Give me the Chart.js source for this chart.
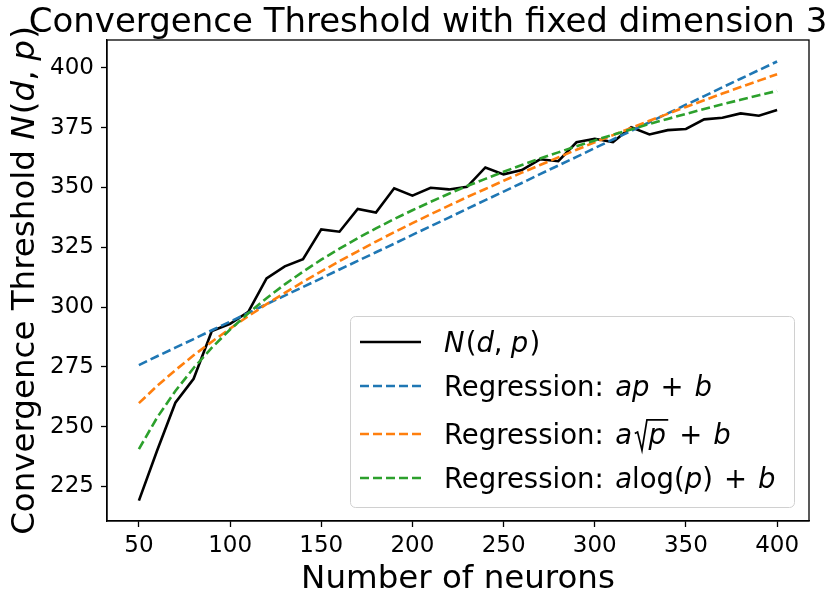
<!DOCTYPE html>
<html>
<head>
<meta charset="utf-8">
<script src="https://cdn.jsdelivr.net/npm/chart.js@4.4.0/dist/chart.umd.min.js"></script>
<style>
  html, body { margin: 0; padding: 0; background: #fff; }
  #wrap { width: 832px; height: 594px; }
</style>
</head>
<body>
<div id="wrap"><canvas id="chart" width="832" height="594"></canvas></div>
<script>
// number of neurons p
const neurons = [50, 60, 70, 80, 90, 100, 110, 120, 130, 140, 150, 160, 170, 180, 190, 200, 210, 220,
                 230, 240, 250, 260, 270, 280, 290, 300, 310, 320, 330, 340, 350, 360, 370, 380, 390, 400];
// measured convergence threshold N(d,p)
const threshold = [219, 240, 260, 270, 290, 293, 298, 312, 317, 320, 332.5, 331.5, 341, 339.5, 349.7, 346.6,
                   349.9, 349.2, 350.3, 358.4, 355.5, 357.3, 361.8, 361, 368.9, 370.4, 369, 375.2, 372.2,
                   374, 374.5, 378.5, 379.2, 381, 380, 382.4];
// regression curves
const regLinear = [275.7, 279.4, 283.0, 286.6, 290.3, 293.9, 297.5, 301.2, 304.8, 308.4, 312.0, 315.7,
                   319.3, 322.9, 326.5, 330.2, 333.8, 337.4, 341.1, 344.7, 348.3, 351.9, 355.6, 359.2,
                   362.8, 366.5, 370.1, 373.7, 377.3, 381.0, 384.6, 388.2, 391.9, 395.5, 399.1, 402.7];
const regSqrt = [259.8, 267.0, 273.6, 279.8, 285.5, 291.0, 296.2, 301.2, 305.9, 310.5, 314.9, 319.2,
                 323.3, 327.4, 331.3, 335.1, 338.8, 342.4, 346.0, 349.4, 352.8, 356.2, 359.4, 362.6,
                 365.8, 368.9, 371.9, 374.9, 377.9, 380.8, 383.7, 386.5, 389.3, 392.0, 394.7, 397.4];
const regLog = [240.6, 253.8, 264.9, 274.5, 283.0, 290.6, 297.4, 303.7, 309.5, 314.8, 319.8, 324.4,
                328.8, 332.9, 336.8, 340.5, 344.0, 347.4, 350.6, 353.6, 356.6, 359.4, 362.1, 364.7,
                367.3, 369.7, 372.1, 374.3, 376.6, 378.7, 380.8, 382.8, 384.8, 386.7, 388.6, 390.4];
const xTicks = [50, 100, 150, 200, 250, 300, 350, 400];
const yTicks = [225, 250, 275, 300, 325, 350, 375, 400];

const FONT = '"DejaVu Sans", sans-serif';

function pts(arr) {
    return neurons.map((p, i) => ({ x: p, y: arr[i] }));
}

// draws a run of [text, italic, kind] pieces; 'sqrt' gets a radical, 'gap' is blank space in em
function richText(ctx, parts, x, y, size, measureOnly) {
    let cx = x;
    for (const part of parts) {
        const [t, it, kind] = part;
        if (kind === 'gap') { cx += t * size; continue; }
        ctx.font = (it ? 'italic ' : '') + size + 'px ' + FONT;
        const w = ctx.measureText(t).width;
        if (kind === 'sqrt') {
            const r0 = cx + 0.08 * size, rw = 0.52 * size;
            if (!measureOnly) {
                ctx.save();
                ctx.lineWidth = 1.7;
                ctx.lineJoin = 'miter';
                ctx.beginPath();
                ctx.moveTo(r0 + 0.02 * size, y - 0.36 * size);
                ctx.lineTo(r0 + 0.12 * size, y - 0.42 * size);
                ctx.lineTo(r0 + 0.28 * size, y + 0.24 * size);
                ctx.lineTo(r0 + 0.46 * size, y - 0.86 * size);
                ctx.lineTo(r0 + rw + w + 0.08 * size, y - 0.86 * size);
                ctx.stroke();
                ctx.restore();
                ctx.fillText(t, r0 + rw, y);
            }
            cx = r0 + rw + w + 0.08 * size;
        } else {
            if (!measureOnly) ctx.fillText(t, cx, y);
            cx += w;
        }
    }
    return cx - x;
}

const plus = [[0.4, false, 'gap'], ['+', false], [0.4, false, 'gap']];
const reg = [['Regression:', false], [0.42, false, 'gap']];
const labelN = [['N', true], [0.04, false, 'gap'], ['(', false], ['d', true], [',', false], [0.3, false, 'gap'], ['p', true], [0.04, false, 'gap'], [')', false]];
const legendItems = [
    { color: '#000000', dash: [], parts: labelN, cy: 342 },
    { color: '#1f77b4', dash: [9, 4], parts: reg.concat([['ap', true]], plus, [['b', true]]), cy: 386 },
    { color: '#ff7f0e', dash: [9, 4], parts: reg.concat([['a', true], ['p', true, 'sqrt']], plus, [['b', true]]), cy: 434 },
    { color: '#2ca02c', dash: [9, 4], parts: reg.concat([['a', true], ['log', false], ['(', false], ['p', true], [')', false]], plus, [['b', true]]), cy: 478 }
];

const decor = {
    id: 'decor',
    afterDraw(chart) {
        const ctx = chart.ctx;
        const a = chart.chartArea;
        ctx.save();
        // axes frame
        ctx.strokeStyle = '#000';
        ctx.lineWidth = 1.3;
        ctx.strokeRect(a.left, a.top, a.right - a.left, a.bottom - a.top);

        ctx.fillStyle = '#000';
        ctx.textBaseline = 'alphabetic';
        // title
        ctx.font = '34px ' + FONT;
        ctx.textAlign = 'center';
        ctx.fillText('Convergence Threshold with fixed dimension 3', 428, 32);
        // x axis label
        ctx.font = '32.5px ' + FONT;
        ctx.fillText('Number of neurons', (a.left + a.right) / 2, 588);
        ctx.textAlign = 'left';

        // y axis label (rotated)
        const yParts = [['Convergence Threshold ', false]].concat(labelN);
        ctx.save();
        ctx.translate(34, (a.top + a.bottom) / 2);
        ctx.rotate(-Math.PI / 2);
        const yw = richText(ctx, yParts, 0, 0, 32.5, true);
        richText(ctx, yParts, -yw / 2, 0, 32.5, false);
        ctx.restore();

        // legend
        const lx = 350, ly = 316, lw = 444, lh = 191;
        ctx.beginPath();
        ctx.roundRect(lx + 0.5, ly + 0.5, lw, lh, 5);
        ctx.fillStyle = 'rgba(255,255,255,0.8)';
        ctx.fill();
        ctx.strokeStyle = '#d0d0d0';
        ctx.lineWidth = 1;
        ctx.stroke();
        for (const it of legendItems) {
            ctx.strokeStyle = it.color;
            ctx.lineWidth = 2.6;
            ctx.setLineDash(it.dash);
            ctx.beginPath();
            ctx.moveTo(360, it.cy);
            ctx.lineTo(421, it.cy);
            ctx.stroke();
            ctx.setLineDash([]);
            ctx.fillStyle = '#000';
            ctx.strokeStyle = '#000';
            richText(ctx, it.parts, 444, it.cy + 9.5, 27.5, false);
        }
        ctx.restore();
    }
};

const axisCommon = {
    type: 'linear',
    grid: { drawOnChartArea: false, drawTicks: true, tickLength: 6, tickColor: '#000', tickWidth: 1.3 },
    border: { display: true, color: '#000', width: 1.3 },
    ticks: { color: '#000', font: { family: FONT, size: 23 }, autoSkip: false, maxRotation: 0 }
};

new Chart(document.getElementById('chart'), {
    type: 'line',
    data: {
        datasets: [
            { label: 'N(d,p)', data: pts(threshold), borderColor: '#000000', borderWidth: 2.6, pointRadius: 0, order: 4 },
            { label: 'Regression: ap+b', data: pts(regLinear), borderColor: '#1f77b4', borderWidth: 2.6, borderDash: [9, 4], pointRadius: 0, order: 3 },
            { label: 'Regression: a√p+b', data: pts(regSqrt), borderColor: '#ff7f0e', borderWidth: 2.6, borderDash: [9, 4], pointRadius: 0, order: 2 },
            { label: 'Regression: alog(p)+b', data: pts(regLog), borderColor: '#2ca02c', borderWidth: 2.6, borderDash: [9, 4], pointRadius: 0, order: 1 }
        ]
    },
    options: {
        responsive: false,
        animation: false,
        devicePixelRatio: 1,
        layout: { padding: { top: 40, right: 23, left: 0, bottom: 0 } },
        elements: { line: { tension: 0, fill: false } },
        plugins: { legend: { display: false }, tooltip: { enabled: false }, title: { display: false } },
        scales: {
            x: Object.assign({}, axisCommon, {
                min: 32.5, max: 417.5,
                afterBuildTicks: s => { s.ticks = xTicks.map(v => ({ value: v })); },
                afterFit: s => { s.height = 73; },
                ticks: Object.assign({}, axisCommon.ticks, { padding: 5 })
            }),
            y: Object.assign({}, axisCommon, {
                min: 210.5, max: 411.7,
                afterBuildTicks: s => { s.ticks = yTicks.map(v => ({ value: v })); },
                afterFit: s => { s.width = 107; },
                ticks: Object.assign({}, axisCommon.ticks, { padding: 7 })
            })
        }
    },
    plugins: [decor]
});
</script>
</body>
</html>
